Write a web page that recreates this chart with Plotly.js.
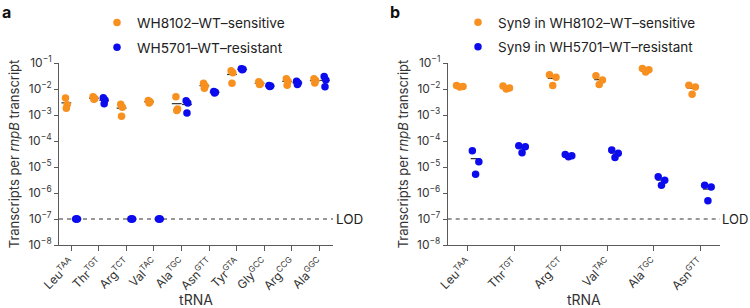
<!DOCTYPE html>
<html>
<head>
<meta charset="utf-8">
<script src="https://cdn.plot.ly/plotly-3.0.1.min.js"></script>
<style>html,body{margin:0;padding:0;background:#fff;}#chart{width:750px;height:308px;}</style>
</head>
<body>
<div id="chart"></div>
<script>
// ---------- data ----------
const LOD = 1e-7;
const tickVals = [1e-8, 1e-7, 1e-6, 1e-5, 1e-4, 1e-3, 1e-2, 1e-1];
const tickText = ["10<sup>−8</sup>", "10<sup>−7</sup>", "10<sup>−6</sup>", "10<sup>−5</sup>", "10<sup>−4</sup>", "10<sup>−3</sup>", "10<sup>−2</sup>", "10<sup>−1</sup>"];

// panel a
const catsA = ["Leu<sup>TAA</sup>", "Thr<sup>TGT</sup>", "Arg<sup>TCT</sup>", "Val<sup>TAC</sup>", "Ala<sup>TGC</sup>", "Asn<sup>GTT</sup>", "Tyr<sup>GTA</sup>", "Gly<sup>GCC</sup>", "Arg<sup>CCG</sup>", "Ala<sup>GGC</sup>"];
const sensA = [
  [4.5e-3, 2.5e-3, 1.8e-3],
  [5.0e-3, 4.3e-3, 4.0e-3],
  [2.6e-3, 2.0e-3, 0.9e-3],
  [3.6e-3, 3.2e-3, 2.9e-3],
  [5.0e-3, 1.7e-3, 1.5e-3],
  [1.65e-2, 1.3e-2, 1.07e-2],
  [5.0e-2, 4.2e-2, 1.65e-2],
  [1.9e-2, 1.6e-2, 1.5e-2],
  [2.5e-2, 2.0e-2, 1.4e-2],
  [2.5e-2, 2.1e-2, 1.7e-2]
];
const resA = [
  [1e-7, 1e-7, 1e-7],
  [4.6e-3, 3.8e-3, 2.7e-3],
  [1e-7, 1e-7, 1e-7],
  [1e-7, 1e-7, 1e-7],
  [3.5e-3, 2.9e-3, 1.2e-3],
  [8.0e-3, 7.5e-3, 7.0e-3],
  [6.0e-2, 5.7e-2, 5.5e-2],
  [1.35e-2, 1.3e-2, 1.25e-2],
  [2.0e-2, 1.7e-2, 1.5e-2],
  [3.0e-2, 2.2e-2, 1.23e-2]
];
const legendA = ["WH8102–WT–sensitive", "WH5701–WT–resistant"];

// panel b
const catsB = ["Leu<sup>TAA</sup>", "Thr<sup>TGT</sup>", "Arg<sup>TCT</sup>", "Val<sup>TAC</sup>", "Ala<sup>TGC</sup>", "Asn<sup>GTT</sup>"];
const sensB = [
  [1.35e-2, 1.25e-2, 1.2e-2],
  [1.3e-2, 1.1e-2, 1.0e-2],
  [3.5e-2, 2.8e-2, 1.35e-2],
  [3.2e-2, 2.2e-2, 1.5e-2],
  [6.2e-2, 5.5e-2, 4.5e-2],
  [1.4e-2, 1.2e-2, 6.3e-3]
];
const resB = [
  [4.2e-5, 1.6e-5, 5.3e-6],
  [6.5e-5, 6.0e-5, 3.5e-5],
  [3.0e-5, 2.7e-5, 2.5e-5],
  [4.5e-5, 3.4e-5, 2.3e-5],
  [4.2e-6, 3.1e-6, 2.0e-6],
  [2.0e-6, 1.7e-6, 5.0e-7]
];
const legendB = ["Syn9 in WH8102–WT–sensitive", "Syn9 in WH5701–WT–resistant"];

// ---------- style ----------
const ORANGE = "#F7901E";
const BLUE = "#0B0BEE";
const FONT = "Inter, 'Open Sans', sans-serif";
const AXC = "#5a5a5a";

function groupTraces(groups, offset, jitter, color, name, xa, ya, legend) {
  const xs = [], ys = [], mx = [], my = [];
  groups.forEach((vals, i) => {
    vals.forEach((v, j) => { xs.push(i + offset + jitter[j % jitter.length]); ys.push(v); });
    mx.push(i + offset);
    my.push(vals.reduce((a, b) => a + b, 0) / vals.length);
  });
  return [
    {x: mx, y: my, xaxis: xa, yaxis: ya, type: "scatter", mode: "markers", showlegend: false, hoverinfo: "skip",
     marker: {symbol: "line-ew", size: 7, line: {width: 1.2, color: "#333"}}},
    {x: xs, y: ys, xaxis: xa, yaxis: ya, type: "scatter", mode: "markers", name: name, legend: legend,
     marker: {size: 7.5, color: color}}
  ];
}

function lodTrace(range, xa, ya) {
  return {x: range, y: [LOD, LOD], xaxis: xa, yaxis: ya, type: "scatter", mode: "lines", showlegend: false,
    hoverinfo: "skip", line: {color: "#333", width: 1, dash: "4px,4px"}};
}

const rangeA = [-0.435, 9.49];
const rangeB = [-0.43, 5.43];

const jA = [-0.03, 0.03, 0];
const jB = [-0.07, 0.07, 0];

const sA = groupTraces(sensA, -0.17, jA, ORANGE, legendA[0], "x", "y", "legend");
const rA = groupTraces(resA, 0.2, jA, BLUE, legendA[1], "x", "y", "legend");
const sB = groupTraces(sensB, -0.17, jB, ORANGE, legendB[0], "x2", "y2", "legend2");
const rB = groupTraces(resB, 0.17, jB, BLUE, legendB[1], "x2", "y2", "legend2");

sA[1].legendgroup = "a1"; rA[1].legendgroup = "a2";
sB[1].legendgroup = "b1"; rB[1].legendgroup = "b2";

const data = [
  lodTrace(rangeA, "x", "y"), lodTrace(rangeB, "x2", "y2"),
  sA[0], rA[0], sB[0], rB[0],
  sA[1], rA[1], sB[1], rB[1]
];

function xAxis(domain, range, cats) {
  return {
    domain: domain, range: range, type: "linear",
    tickvals: cats.map((c, i) => i), ticktext: cats, tickangle: -45,
    ticks: "outside", ticklen: 5, tickwidth: 1, tickcolor: AXC,
    showline: true, linecolor: AXC, linewidth: 1, showgrid: false, zeroline: false,
    tickfont: {family: FONT, size: 12, color: "#333"},
    title: {text: "tRNA", font: {family: FONT, size: 14, color: "#333"}, standoff: 8},
    automargin: false, fixedrange: true
  };
}
function yAxis(domain, anchor) {
  return {
    domain: domain, type: "log", range: [-8, -1], anchor: anchor,
    tickvals: tickVals, ticktext: tickText,
    ticks: "outside", ticklen: 4, tickwidth: 1, tickcolor: AXC,
    showline: true, linecolor: AXC, linewidth: 1, showgrid: false, zeroline: false,
    tickfont: {family: FONT, size: 12, color: "#333"},
    title: {text: "Transcripts per <i>rnpB</i> transcript", font: {family: FONT, size: 13, color: "#333"}, standoff: 5},
    automargin: false, fixedrange: true
  };
}

const yDom = [1 - 245 / 308, 1 - 63 / 308];
const xDomA = [59 / 750, 333 / 750];
const xDomB = [447.7 / 750, 720 / 750];

const legendStyle = (x, fs) => ({
  x: x, y: 1 - 7 / 308, xanchor: "left", yanchor: "top", bgcolor: "rgba(0,0,0,0)",
  font: {family: FONT, size: fs, color: "#222"}, tracegroupgap: 4, traceorder: "grouped",
  itemclick: false, itemdoubleclick: false
});

const layout = {
  width: 750, height: 308,
  margin: {l: 0, r: 0, t: 0, b: 0},
  paper_bgcolor: "#fff", plot_bgcolor: "#fff",
  showlegend: true,
  xaxis: Object.assign(xAxis(xDomA, rangeA, catsA), {anchor: "y"}),
  yaxis: yAxis(yDom, "x"),
  xaxis2: Object.assign(xAxis(xDomB, rangeB, catsB), {anchor: "y2"}),
  yaxis2: yAxis(yDom, "x2"),
  legend: legendStyle(97 / 750, 13.7),
  legend2: legendStyle(458 / 750, 13.5),
  annotations: [
    {text: "<b>a</b>", xref: "paper", yref: "paper", x: 0, y: 1, xanchor: "left", yanchor: "top",
     showarrow: false, font: {family: FONT, size: 16, color: "#111"}},
    {text: "<b>b</b>", xref: "paper", yref: "paper", x: 388 / 750, y: 1, xanchor: "left", yanchor: "top",
     showarrow: false, font: {family: FONT, size: 16, color: "#111"}},
    {text: "LOD", xref: "x domain", yref: "y", x: 1.005, y: Math.log10(LOD), xanchor: "left", yanchor: "middle",
     showarrow: false, font: {family: FONT, size: 13.5, color: "#222"}},
    {text: "LOD", xref: "x2 domain", yref: "y2", x: 1.0, y: Math.log10(LOD), xanchor: "left", yanchor: "middle",
     showarrow: false, font: {family: FONT, size: 13, color: "#222"}}
  ]
};

Plotly.newPlot("chart", data, layout, {staticPlot: true, displayModeBar: false});
</script>
</body>
</html>
